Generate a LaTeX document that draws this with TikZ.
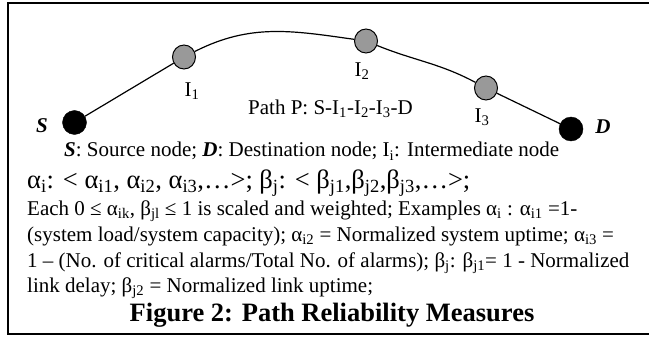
\documentclass[tikz,border=0pt]{standalone}
\usepackage{fontspec}
\setmainfont{Liberation Serif}
\usetikzlibrary{shapes.geometric}
\definecolor{nodegray}{RGB}{153,153,153}
\begin{document}
\begin{tikzpicture}[x=1pt,y=-1pt,
  endpt/.style={circle,fill=black,draw=black,minimum size=24pt,inner sep=0pt},
  midpt/.style={ellipse,fill=nodegray,draw=black,line width=1pt,minimum width=23pt,minimum height=24pt,inner sep=0pt},
  link/.style={line width=1.2pt},
  lbl/.style={font=\fontsize{21}{24}\selectfont,inner sep=0pt},
  bilbl/.style={font=\fontsize{21}{24}\selectfont\bfseries\itshape,inner sep=0pt},
  body/.style={font=\fontsize{21}{24}\selectfont,inner sep=0pt,anchor=base west},
  frame/.style={line width=2pt}]
\useasboundingbox (0,0) rectangle (649,337);
\draw[frame] (649,3.5) -- (7.5,3.5) -- (7.5,334) -- (649,334);
% nodes
\node[endpt] (S) at (74.5,122.5) {};
\node[midpt] (I1) at (184,57) {};
\node[midpt] (I2) at (366,41) {};
\node[midpt] (I3) at (486,88) {};
\node[endpt] (D) at (571,129) {};
% connectors
\draw[link] (S) -- (I1);
\draw[link] (I1) to[out=27,in=172] (I2);
\draw[link] (I2) to[out=-22,in=152] (I3);
\draw[link] (I3) -- (D);
% labels
\node[bilbl] (Sl) at (42,126) {S};
\node[bilbl] (Dl) at (603,127) {D};
\node[lbl] (I1l) at (192,91) {I\textsubscript{1}};
\node[lbl] (I2l) at (362,71) {I\textsubscript{2}};
\node[lbl] (I3l) at (482,117) {I\textsubscript{3}};
\node[body] (path) at (248,114.5) {Path P: S-I\textsubscript{1}-I\textsubscript{2}-I\textsubscript{3}-D};
% text block
\node[body] (t1) at (64,157) {\textbf{\textit{S}}: Source node; \textbf{\textit{D}}: Destination node; I\textsubscript{i}: Intermediate node};
\node[body,font=\fontsize{26.5}{30}\selectfont] (t2) at (27,189) {α\textsubscript{i}: < α\textsubscript{i1}, α\textsubscript{i2}, α\textsubscript{i3},…>; β\textsubscript{j}: < β\textsubscript{j1},β\textsubscript{j2},β\textsubscript{j3},…>;};
\node[body] (t3) at (27,215) {Each 0 ≤ α\textsubscript{ik}, β\textsubscript{jl} ≤ 1 is scaled and weighted; Examples α\textsubscript{i} : α\textsubscript{i1} =1-};
\node[body] (t4) at (27,241) {(system load/system capacity); α\textsubscript{i2} = Normalized system uptime; α\textsubscript{i3} =};
\node[body] (t5) at (27,267) {1 – (No. of critical alarms/Total No. of alarms); β\textsubscript{j}: β\textsubscript{j1}= 1 - Normalized};
\node[body] (t6) at (27,292) {link delay; β\textsubscript{j2} = Normalized link uptime;};
\node[font=\fontsize{26.5}{30}\selectfont\bfseries,inner sep=0pt,anchor=base] (cap) at (332,321) {Figure 2: Path Reliability Measures};
\end{tikzpicture}
\end{document}
